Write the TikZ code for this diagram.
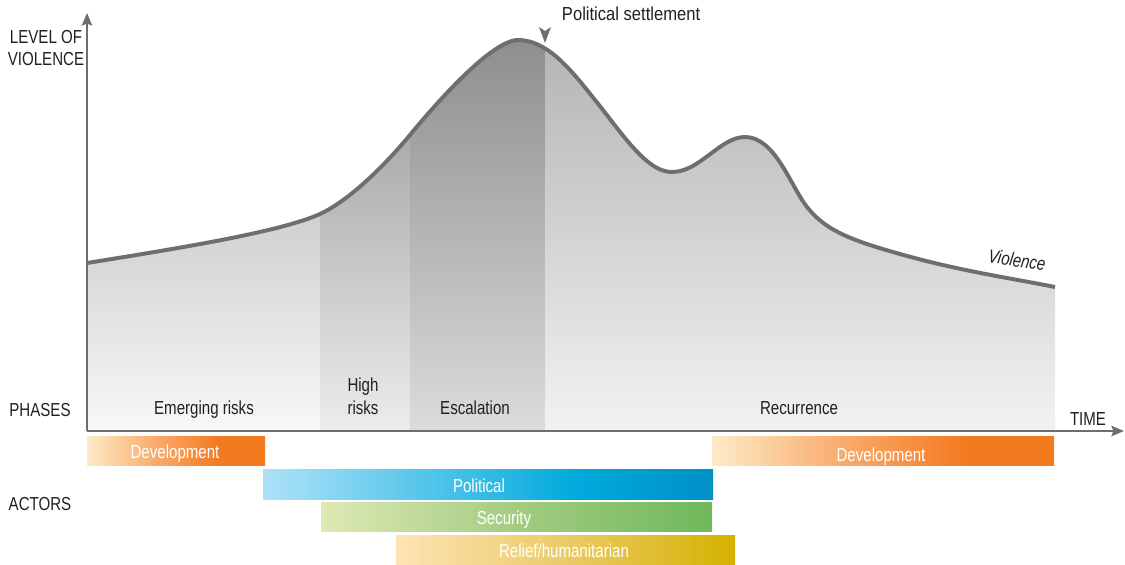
\documentclass[tikz,border=0pt]{standalone}
\usepackage{fontspec}
\setmainfont{Liberation Sans}[FakeStretch=0.8]
\newfontfamily\settlefont{Liberation Sans}[FakeStretch=0.88]
\usetikzlibrary{arrows.meta}

\definecolor{linegray}{HTML}{6D6E71}
\definecolor{labeldark}{HTML}{231F20}
% phase shading
\definecolor{emergT}{HTML}{AEAFB1}
\definecolor{emergB}{HTML}{F8F8F8}
\definecolor{highT}{HTML}{959698}
\definecolor{highB}{HTML}{ECECEC}
\definecolor{escT}{HTML}{8D8E90}
\definecolor{escB}{HTML}{DCDCDD}
\definecolor{recT}{HTML}{B3B4B6}
\definecolor{recB}{HTML}{F2F2F2}
% actor bars
\definecolor{devL}{HTML}{FDEBC8}
\definecolor{devM}{HTML}{F9A868}
\definecolor{devR}{HTML}{F47A20}
\definecolor{polL}{HTML}{AEE2F8}
\definecolor{polM}{HTML}{00AADC}
\definecolor{polR}{HTML}{0090C6}
\definecolor{secL}{HTML}{DEE9B4}
\definecolor{secM}{HTML}{A3CC82}
\definecolor{secR}{HTML}{6FB85B}
\definecolor{relL}{HTML}{FDE4B4}
\definecolor{relM}{HTML}{EBCB66}
\definecolor{relR}{HTML}{D5B100}

\pgfdeclarehorizontalshading{devshade}{100bp}{color(0bp)=(devL); color(25bp)=(devL); color(45bp)=(devM); color(62bp)=(devR); color(100bp)=(devR)}
\pgfdeclarehorizontalshading{polshade}{100bp}{color(0bp)=(polL); color(25bp)=(polL); color(60bp)=(polM); color(75bp)=(polR); color(100bp)=(polR)}
\pgfdeclarehorizontalshading{secshade}{100bp}{color(0bp)=(secL); color(25bp)=(secL); color(50bp)=(secM); color(75bp)=(secR); color(100bp)=(secR)}
\pgfdeclarehorizontalshading{relshade}{100bp}{color(0bp)=(relL); color(25bp)=(relL); color(50bp)=(relM); color(75bp)=(relR); color(100bp)=(relR)}

\begin{document}
\begin{tikzpicture}[x=0.025cm, y=-0.025cm,
    every node/.style={font=\fontsize{13.4}{16}\selectfont, text=labeldark},
    axis/.style={draw=linegray, line width=1.1pt, -{Stealth[length=9pt, width=7.5pt, inset=1.5pt]}},
    violence/.style={draw=linegray, line width=2.8pt},
    phase/.style={anchor=base, align=center},
    barlabel/.style={anchor=base, text=white}]
  \useasboundingbox (0,0) rectangle (1125,565);

  % shaded phases under the curve
  \begin{scope}
    \clip (87,431) -- (87,263) .. controls (180,248) and (280,232) .. (320,214)
      .. controls (350,200) and (385,165) .. (410,135)
      .. controls (428,113) and (490,40) .. (518,40)
      .. controls (550,40) and (575,75) .. (603,110)
      .. controls (630,145) and (650,172) .. (672,172)
      .. controls (700,172) and (720,137) .. (745,137)
      .. controls (775,137) and (790,185) .. (807,207)
      .. controls (825,230) and (850,240) .. (900,254)
      .. controls (960,271) and (1010,278) .. (1055,287) -- (1055,431) -- cycle;
    \shade[top color=emergT, bottom color=emergB] (87,40) rectangle (320,431);
    \shade[top color=highT, bottom color=highB] (320,40) rectangle (410,431);
    \shade[top color=escT, bottom color=escB] (410,40) rectangle (545,431);
    \shade[top color=recT, bottom color=recB] (545,40) rectangle (1055,431);
  \end{scope}
  \draw[violence] (87,263) .. controls (180,248) and (280,232) .. (320,214)
    .. controls (350,200) and (385,165) .. (410,135)
    .. controls (428,113) and (490,40) .. (518,40)
    .. controls (550,40) and (575,75) .. (603,110)
    .. controls (630,145) and (650,172) .. (672,172)
    .. controls (700,172) and (720,137) .. (745,137)
    .. controls (775,137) and (790,185) .. (807,207)
    .. controls (825,230) and (850,240) .. (900,254)
    .. controls (960,271) and (1010,278) .. (1055,287);

  % axes
  \coordinate (origin) at (87,431);
  \coordinate (ytip) at (87,13);
  \coordinate (xtip) at (1124,431);
  \draw[axis] (origin) -- (ytip);
  \draw[axis] (origin) -- (xtip);

  \fill[linegray] (539,27) -- (545,31) -- (551,27) -- (545,43) -- cycle;
  \node[anchor=base west, font=\fontsize{13.4}{16}\settlefont] (settle) at (557,21) {Political settlement};
  \node[font=\fontsize{13.4}{16}\selectfont\itshape, rotate=-9] (vlabel) at (1017,260) {Violence};

  \node[align=center] (level) at (46,48) {LEVEL OF\\VIOLENCE};
  \node[anchor=base] (time) at (1088,425) {TIME};
  \node[anchor=base] (phases) at (40,416) {PHASES};
  \node[anchor=base] (actors) at (40,510) {ACTORS};

  % phases
  \node[phase] (emerging) at (204,414) {Emerging risks};
  \node[phase] (high) at (363,414) {High\\risks};
  \node[phase] (escal) at (475,414) {Escalation};
  \node[phase] (recur) at (799,414) {Recurrence};

  % actors
  \shade[shading=devshade] (87,436) rectangle (265,465);
  \node[barlabel] (dev1) at (175,458) {Development};
  \shade[shading=polshade] (263,469) rectangle (713,499);
  \node[barlabel] (pol) at (479,492) {Political};
  \shade[shading=secshade] (321,502) rectangle (712,531);
  \node[barlabel] (sec) at (504,524) {Security};
  \shade[shading=relshade] (396,535) rectangle (735,564);
  \node[barlabel] (relief) at (564,557) {Relief/humanitarian};
  \shade[shading=devshade] (712,436) rectangle (1054,465);
  \node[barlabel] (dev2) at (881,461) {Development};
\end{tikzpicture}
\end{document}
